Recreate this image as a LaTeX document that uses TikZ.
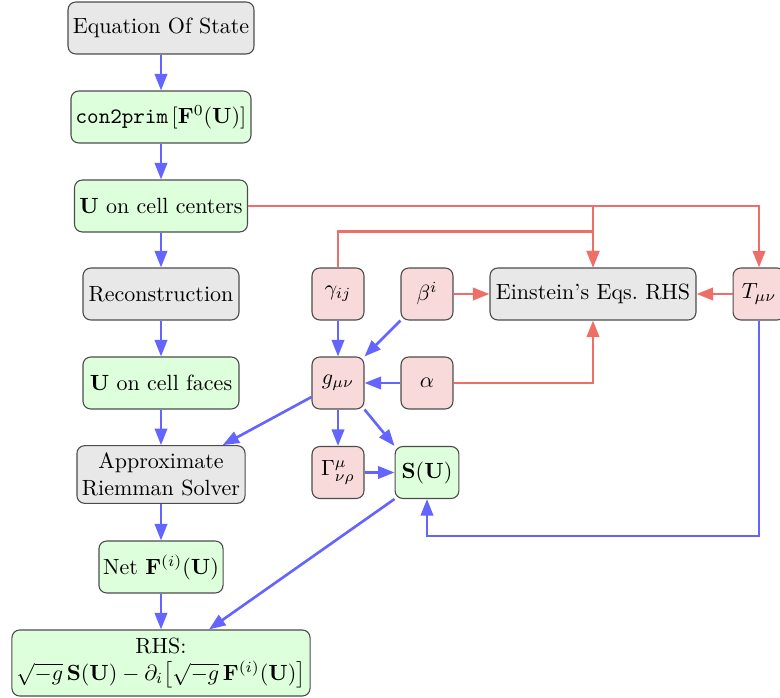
\documentclass[tikz,border=0pt]{standalone}
\usetikzlibrary{arrows.meta,calc}
\definecolor{bl}{RGB}{100,100,255}
\definecolor{rd}{RGB}{238,110,104}
\definecolor{gfill}{RGB}{232,232,232}
\definecolor{grfill}{RGB}{222,255,220}
\definecolor{rfill}{RGB}{248,218,218}
\begin{document}
\begin{tikzpicture}[x=0.4545pt,y=-0.4545pt,
  box/.style={draw=black!70,line width=0.5pt,rounded corners=3.5pt,inner sep=1pt,align=center,minimum height=23.6pt},
  gbox/.style={box,fill=gfill},
  grbox/.style={box,fill=grfill},
  rbox/.style={box,fill=rfill,minimum width=23.6pt},
  ba/.style={draw=bl,line width=1.2pt,-{Triangle[length=7.5pt,width=5.6pt]}},
  ra/.style={draw=rd,line width=1.2pt,-{Triangle[length=7.5pt,width=5.6pt]}},
  rl/.style={draw=rd,line width=1.2pt}]
\useasboundingbox (0,0) rectangle (780,698);
% left column
\node[gbox,minimum width=84.5pt] (eos) at (161,28) {Equation Of State};
\node[grbox,minimum width=81.8pt] (c2p) at (161,117) {$\texttt{con2prim}\,[\mathbf{F}^0(\mathbf{U})]$};
\node[grbox,minimum width=78.6pt] (ucc) at (161,206) {$\mathbf{U}$ on cell centers};
\node[gbox,minimum width=70.9pt] (rec) at (161,294) {Reconstruction};
\node[grbox,minimum width=70.9pt] (ucf) at (161,383) {$\mathbf{U}$ on cell faces};
\node[gbox,minimum width=76.4pt,minimum height=26.2pt] (rie) at (161,474.5) {Approximate\\Riemman Solver};
\node[grbox,minimum width=56.4pt] (net) at (161,567) {Net $\mathbf{F}^{(i)}(\mathbf{U})$};
\node[grbox,minimum width=135.5pt,minimum height=30pt] (rhs) at (161,663) {RHS:\\$\sqrt{-g}\,\mathbf{S}(\mathbf{U})-\partial_i\big[\sqrt{-g}\,\mathbf{F}^{(i)}(\mathbf{U})\big]$};
% right part
\node[rbox] (gam) at (338,294) {$\gamma_{ij}$};
\node[rbox] (beta) at (427,294) {$\beta^i$};
\node[gbox,minimum width=93.6pt] (ein) at (593,294) {Einstein's Eqs.\ RHS};
\node[rbox] (T) at (759,294) {$T_{\mu\nu}$};
\node[rbox] (g) at (338,383) {$g_{\mu\nu}$};
\node[rbox] (alpha) at (427,383) {$\alpha$};
\node[rbox] (Gam) at (338,472.5) {$\Gamma^\mu_{\nu\rho}$};
\node[grbox,minimum width=29pt] (S) at (427,472.5) {$\mathbf{S}(\mathbf{U})$};
% blue chain
\draw[ba] (eos) -- (c2p);
\draw[ba] (c2p) -- (ucc);
\draw[ba] (ucc) -- (rec);
\draw[ba] (rec) -- (ucf);
\draw[ba] (ucf) -- (rie);
\draw[ba] (rie) -- (net);
\draw[ba] (net) -- (rhs);
% red connectors
\draw[ra] (ucc.east) -| (ein.north);
\draw[ra] (ucc.east) -| (T.north);
\draw[ra] (gam.north) |- ($(ein.north)+(0,-36)$) -- (ein.north);
\draw[ra] (beta) -- (ein);
\draw[ra] (T) -- (ein);
\draw[ra] (alpha.east) -| (ein.south);
% blue connectors
\draw[ba] (gam) -- (g);
\draw[ba] (beta.south west) -- (g.north east);
\draw[ba] (alpha) -- (g);
\draw[ba] (g) -- (Gam);
\draw[ba] (g.south east) -- (S.north west);
\draw[ba] (Gam) -- (S);
\draw[ba] ($(g.west)+(0,14)$) -- ($(rie.north east)+(-23,0)$);
\draw[ba] (S.south west) -- ($(rhs.north)+(48,0)$);
\draw[ba] (T.south) |- ($(S.south)+(0,37)$) -- (S.south);
\end{tikzpicture}
\end{document}
